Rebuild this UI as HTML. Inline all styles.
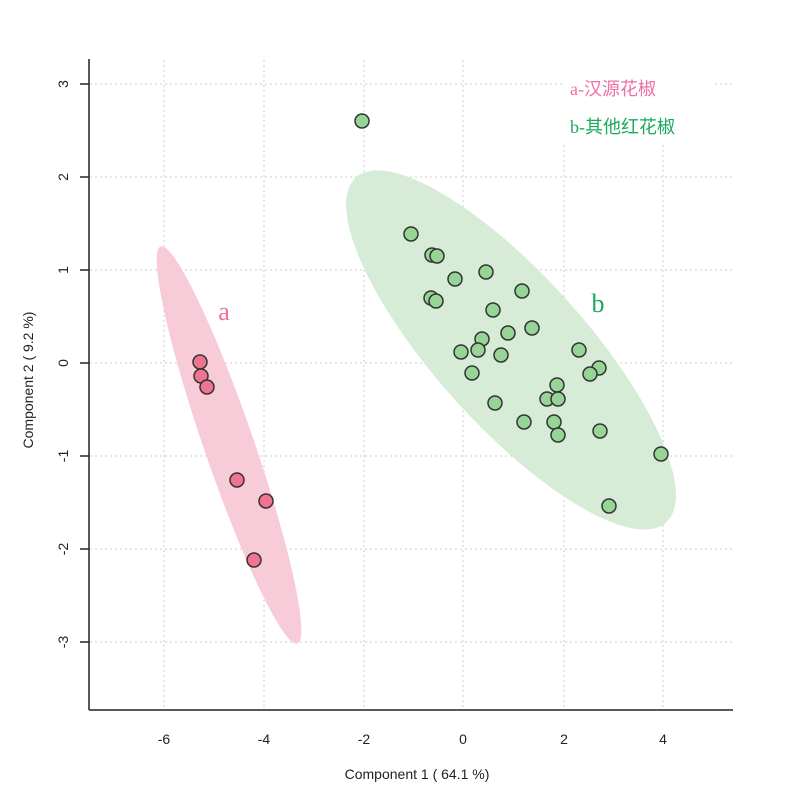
<!DOCTYPE html><html><head><style>body{margin:0;background:#fff}</style></head><body>
<svg width="800" height="799" xmlns="http://www.w3.org/2000/svg" font-family="Liberation Sans, sans-serif">
<rect width="800" height="799" fill="#fff"/>
<g stroke="#ccc" stroke-dasharray="2,3" stroke-width="1">
<line x1="164" y1="60" x2="164" y2="710"/><line x1="264" y1="60" x2="264" y2="710"/><line x1="364" y1="60" x2="364" y2="710"/><line x1="463" y1="60" x2="463" y2="710"/><line x1="564" y1="60" x2="564" y2="710"/><line x1="663" y1="60" x2="663" y2="710"/>
<line x1="90" y1="84" x2="733" y2="84"/><line x1="90" y1="177" x2="733" y2="177"/><line x1="90" y1="270" x2="733" y2="270"/><line x1="90" y1="363" x2="733" y2="363"/><line x1="90" y1="456" x2="733" y2="456"/><line x1="90" y1="549" x2="733" y2="549"/><line x1="90" y1="642" x2="733" y2="642"/>
</g>
<rect x="562" y="56" width="150" height="86" fill="#fff"/>
<ellipse cx="229" cy="445" rx="210" ry="25" transform="rotate(71 229 445)" fill="#f7ccd8"/>
<ellipse cx="511" cy="350" rx="232" ry="75" transform="rotate(48 511 350)" fill="#d6ecd6"/>
<g fill="#ef7491" stroke="#333" stroke-width="1.5">
<circle cx="200" cy="362" r="7"/><circle cx="201" cy="376" r="7"/><circle cx="207" cy="387" r="7"/><circle cx="237" cy="480" r="7"/><circle cx="266" cy="501" r="7"/><circle cx="254" cy="560" r="7"/>
</g>
<g fill="#96d596" stroke="#333" stroke-width="1.5">
<circle cx="362" cy="121" r="7"/><circle cx="411" cy="234" r="7"/><circle cx="432" cy="255" r="7"/><circle cx="437" cy="256" r="7"/><circle cx="455" cy="279" r="7"/><circle cx="486" cy="272" r="7"/><circle cx="431" cy="298" r="7"/><circle cx="436" cy="301" r="7"/><circle cx="493" cy="310" r="7"/><circle cx="522" cy="291" r="7"/><circle cx="532" cy="328" r="7"/><circle cx="482" cy="339" r="7"/><circle cx="508" cy="333" r="7"/><circle cx="461" cy="352" r="7"/><circle cx="478" cy="350" r="7"/><circle cx="501" cy="355" r="7"/><circle cx="472" cy="373" r="7"/><circle cx="579" cy="350" r="7"/><circle cx="599" cy="368" r="7"/><circle cx="590" cy="374" r="7"/><circle cx="557" cy="385" r="7"/><circle cx="547" cy="399" r="7"/><circle cx="558" cy="399" r="7"/><circle cx="495" cy="403" r="7"/><circle cx="524" cy="422" r="7"/><circle cx="554" cy="422" r="7"/><circle cx="558" cy="435" r="7"/><circle cx="600" cy="431" r="7"/><circle cx="661" cy="454" r="7"/><circle cx="609" cy="506" r="7"/>
</g>
<g stroke="#222" stroke-width="1.5" fill="none">
<line x1="89" y1="59" x2="89" y2="710"/><line x1="89" y1="710" x2="733" y2="710"/>
<line x1="80" y1="84" x2="89" y2="84"/><line x1="80" y1="177" x2="89" y2="177"/><line x1="80" y1="270" x2="89" y2="270"/><line x1="80" y1="363" x2="89" y2="363"/><line x1="80" y1="456" x2="89" y2="456"/><line x1="80" y1="549" x2="89" y2="549"/><line x1="80" y1="642" x2="89" y2="642"/>
</g>
<g font-size="14" fill="#222" text-anchor="middle">
<text x="164" y="744">-6</text><text x="264" y="744">-4</text><text x="364" y="744">-2</text><text x="463" y="744">0</text><text x="564" y="744">2</text><text x="663" y="744">4</text>
<text transform="translate(68 84) rotate(-90)">3</text><text transform="translate(68 177) rotate(-90)">2</text><text transform="translate(68 270) rotate(-90)">1</text><text transform="translate(68 363) rotate(-90)">0</text><text transform="translate(68 456) rotate(-90)">-1</text><text transform="translate(68 549) rotate(-90)">-2</text><text transform="translate(68 642) rotate(-90)">-3</text>
<text x="417" y="779" font-size="14">Component 1 ( 64.1 %)</text>
<text transform="translate(33 380) rotate(-90)" font-size="14">Component 2 ( 9.2 %)</text>
</g>
<text x="224" y="320" font-size="26" fill="#ee6fa5" font-family="Liberation Serif, serif" text-anchor="middle">a</text>
<text x="598" y="312" font-size="26" fill="#1aaa5a" font-family="Liberation Serif, serif" text-anchor="middle">b</text>
<text x="570" y="95" font-size="18" fill="#ee6fa5" font-family="Liberation Serif, 'Noto Sans CJK SC', serif">a-汉源花椒</text>
<text x="570" y="133" font-size="18" fill="#1aaa5a" font-family="Liberation Serif, 'Noto Sans CJK SC', serif">b-其他红花椒</text>
</svg></body></html>
